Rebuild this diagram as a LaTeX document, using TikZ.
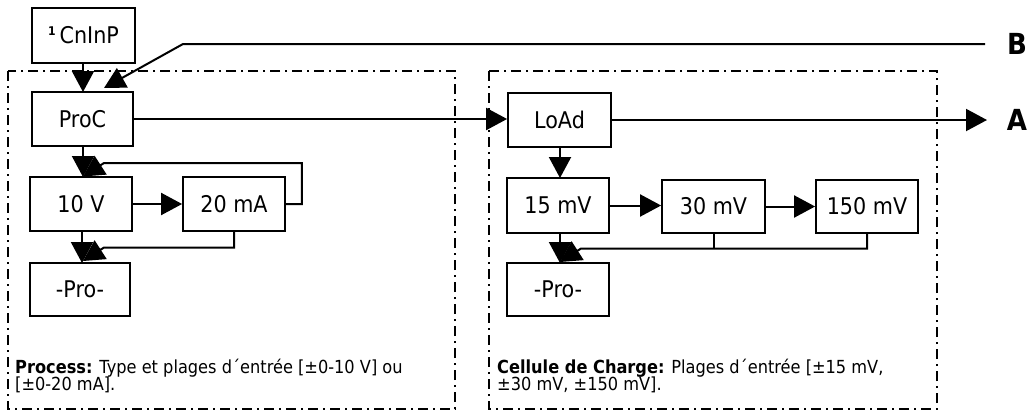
\documentclass[tikz,border=0pt]{standalone}
\usepackage{fontspec}
\setmainfont{DejaVu Sans}[FakeStretch=0.9]
\usetikzlibrary{arrows.meta}
\begin{document}
\begin{tikzpicture}[x=1pt,y=-1pt,
  box/.style={draw, line width=1.8pt, inner sep=0pt, minimum width=102pt, minimum height=54pt,
              font=\fontsize{23}{23}\selectfont},
  conn/.style={line width=2pt},
  arr/.style={conn, -{Triangle[length=21pt,width=22pt]}},
  zone/.style={line width=1.8pt, dash pattern=on 10pt off 5pt on 2pt off 5pt},
  note/.style={anchor=base west, inner sep=0pt, font=\fontsize{18}{18}\selectfont},
  letter/.style={inner sep=0pt, font=\fontsize{29}{29}\selectfont\bfseries}]
\useasboundingbox (0,0) rectangle (1030,413);

% zones
\draw[zone] (8,71) rectangle (455,409);
\draw[zone] (489,71) rectangle (937,409);

% boxes
\node[box, minimum width=103pt, minimum height=55pt] (cn) at (83.5,35.5)
  {\raisebox{8.5pt}{\fontsize{12}{12}\selectfont\bfseries 1}\hspace{4pt}CnInP};
\node[box, minimum width=101pt] (proc) at (82.5,119) {ProC};
\node[box] (v10) at (81,204) {10 V};
\node[box] (ma20) at (234,204) {20 mA};
\node[box, minimum width=100pt, minimum height=53pt] (pro1) at (80,289.5) {-Pro-};

\node[box, minimum width=103pt] (load) at (559.5,120) {LoAd};
\node[box, minimum height=55pt] (mv15) at (558,205.5) {15 mV};
\node[box, minimum width=103pt, minimum height=53pt] (mv30) at (713.5,206.5) {30 mV};
\node[box, minimum height=53pt] (mv150) at (867,206.5) {150 mV};
\node[box, minimum height=53pt] (pro2) at (558,289.5) {-Pro-};

% labels A, B
\node[letter] (lA) at (1017,120) {A};
\node[letter] (lB) at (1017,44) {B};

% coordinates
\coordinate (Bstart) at (985,44);
\coordinate (Bbend) at (183,44);
\coordinate (Btip) at (104,88);
\coordinate (Atip) at (987,120);
\coordinate (loopL) at (104,163);
\coordinate (loopT) at (83,176.5);
\coordinate (retL) at (104,247.5);
\coordinate (retT) at (83,261);
\coordinate (rretL) at (581,248.5);
\coordinate (rretT) at (560,262);

% left column
\draw[arr] (83,63) -- (83,92);
\draw[arr] (Bstart) -- (Bbend) -- (Btip);
\draw[arr] (proc.east) -- (proc.east -| load.west);
\draw[arr] (83,146) -- (83,177);
\draw[arr] (v10.east) -- (ma20.west);
\draw[arr] (ma20.east) -- ++(16,0) |- (loopL) -- (loopT);
\draw[arr] (82,231) -- (82,263);
\draw[arr] (ma20.south) |- (retL) -- (retT);

% right column
\draw[arr] (load.east) -- (Atip);
\draw[arr] (560,147) -- (560,178);
\draw[arr] (mv15.east) -- (mv15.east -| mv30.west);
\draw[arr] (mv30.east) -- (mv30.east -| mv150.west);
\draw[arr] (560,233) -- (560,263);
\draw[arr] (mv150.south) |- (rretL) -- (rretT);
\draw[conn] (mv30.south) -- (mv30.south |- rretL);

% notes
\node[note] (n1) at (15,373) {\textbf{Process:} Type et plages d´entrée [±0-10 V] ou};
\node[note] (n2) at (15,390) {[±0-20 mA].};
\node[note] (n3) at (497,373) {\textbf{Cellule de Charge:} Plages d´entrée [±15 mV,};
\node[note] (n4) at (497,390) {±30 mV, ±150 mV].};
\end{tikzpicture}
\end{document}
